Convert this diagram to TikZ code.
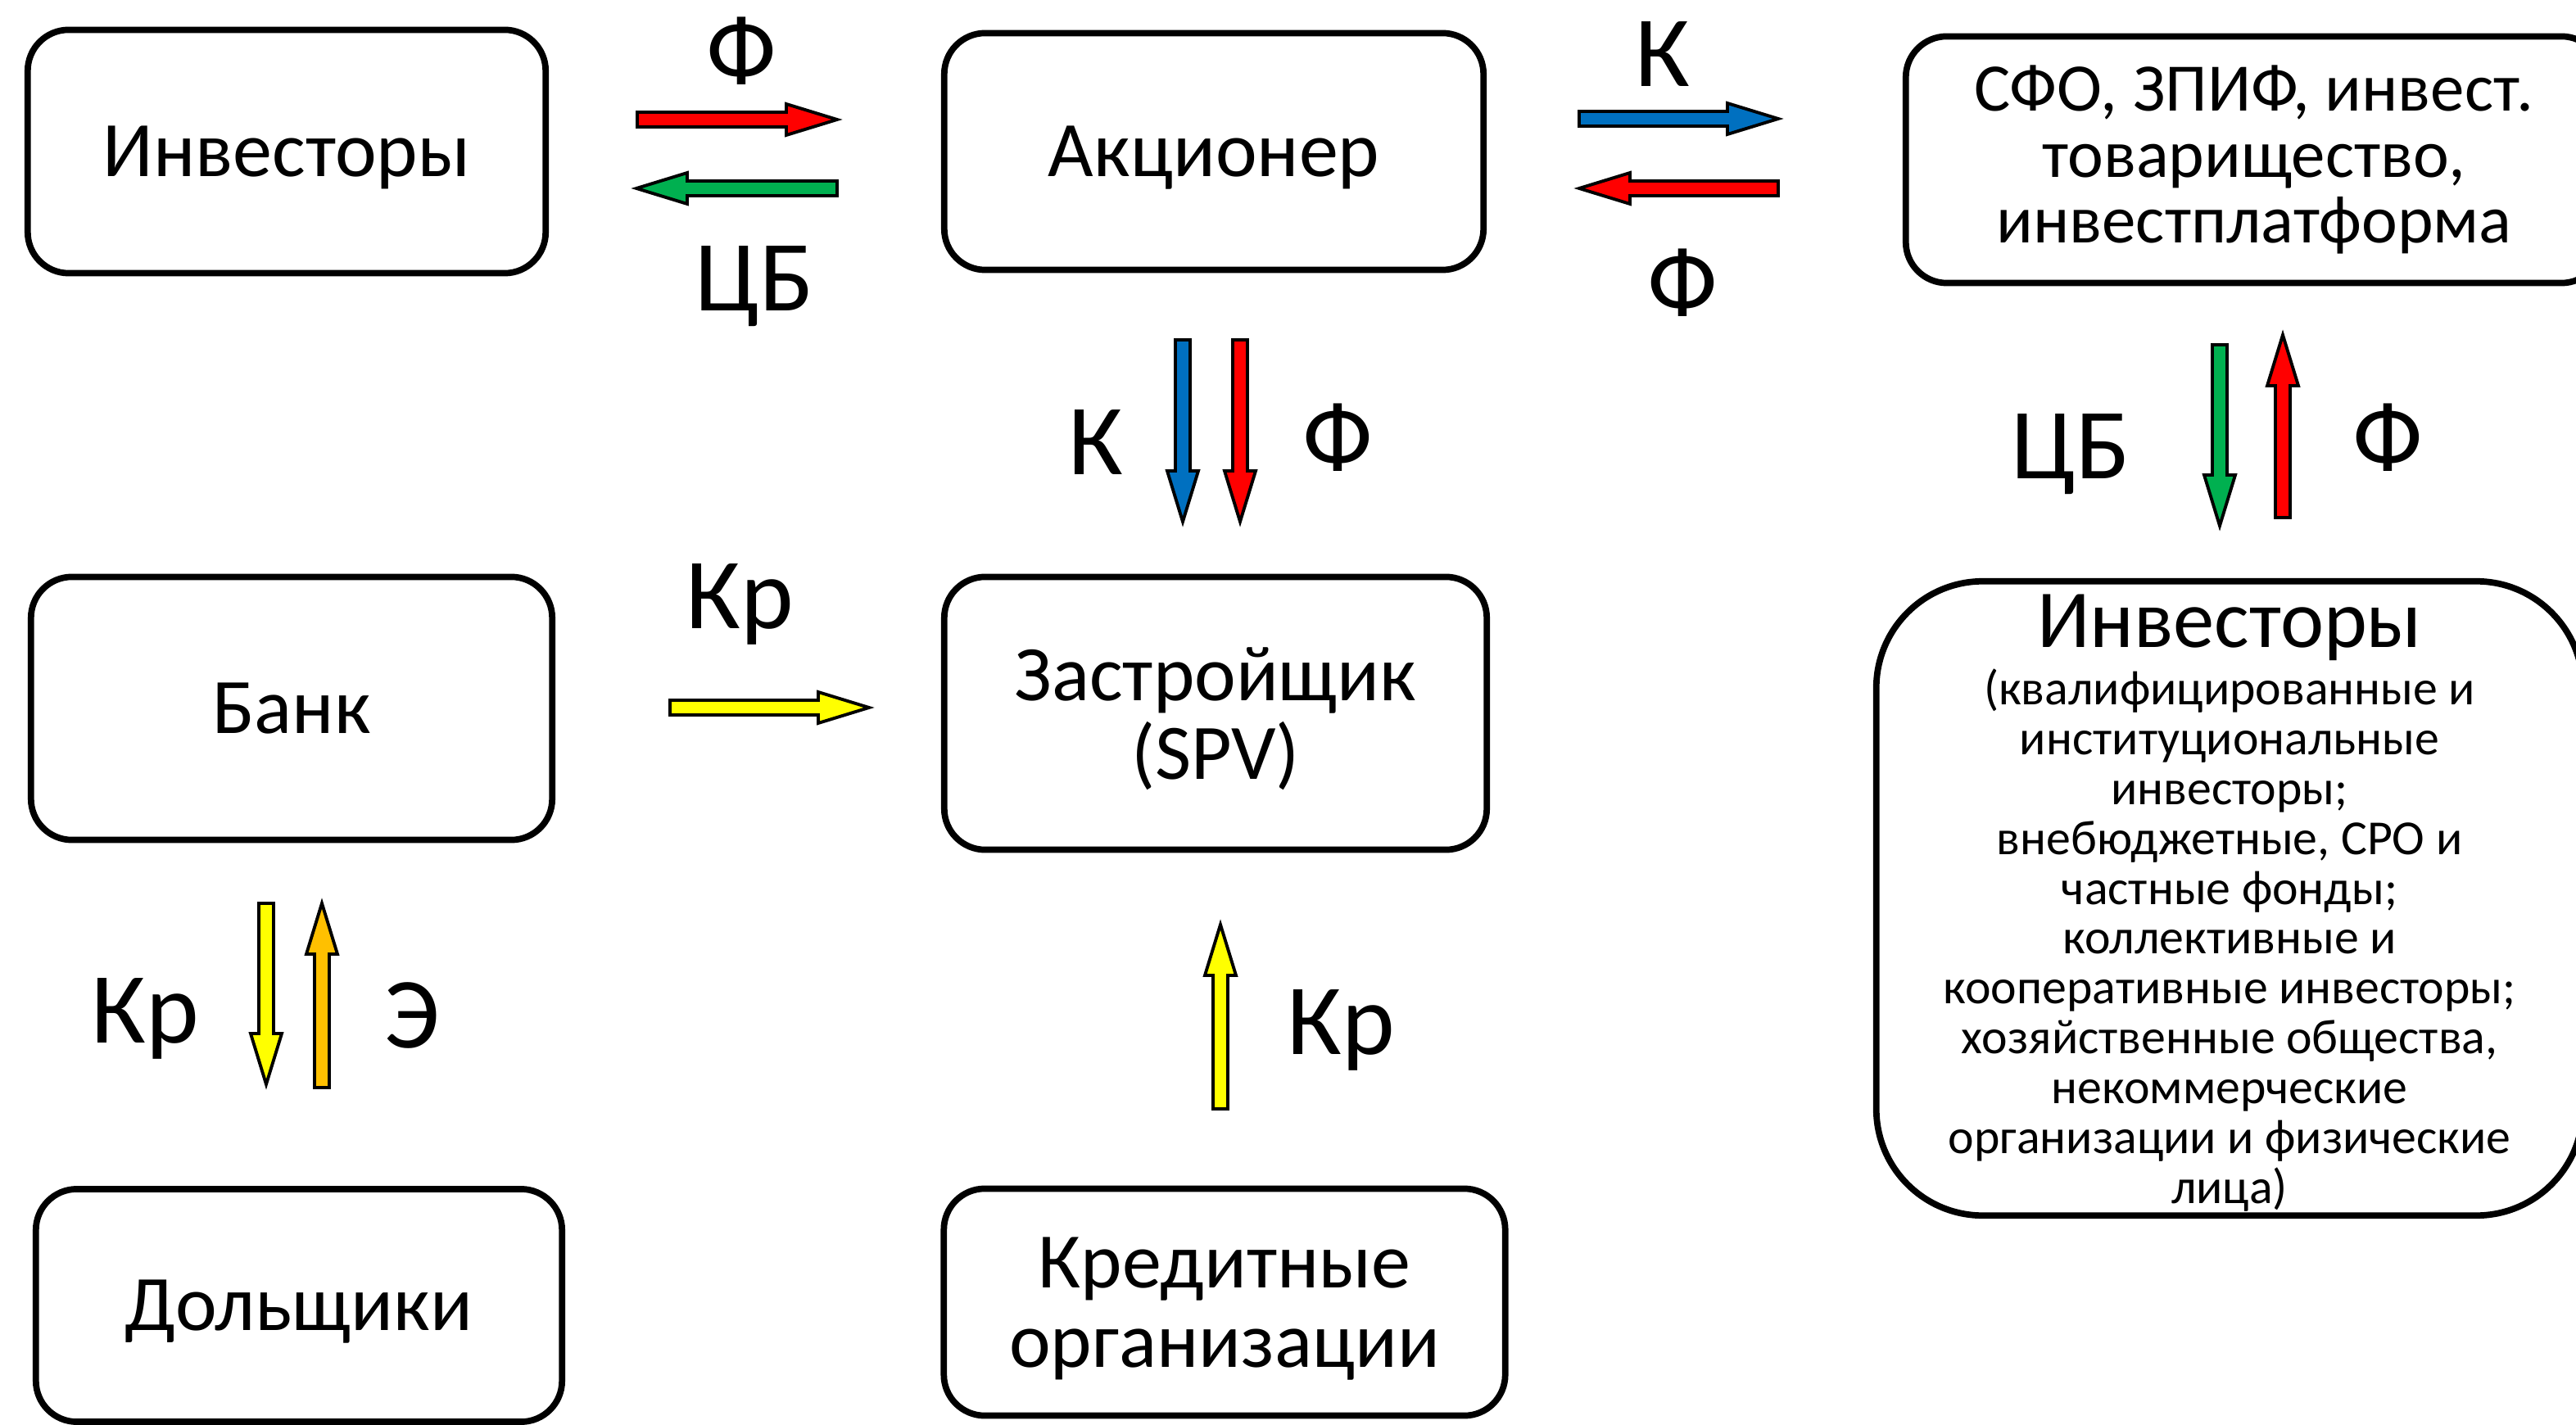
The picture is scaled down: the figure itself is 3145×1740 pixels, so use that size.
\documentclass[tikz,border=0pt]{standalone}
\usepackage{fontspec}
\setmainfont{Carlito}
\definecolor{cred}{HTML}{FF0000}
\definecolor{cgreen}{HTML}{00B050}
\definecolor{cblue}{HTML}{0070C0}
\definecolor{cyellow}{HTML}{FFFF00}
\definecolor{corange}{HTML}{FFC000}
\newcommand{\blkarrow}[5]{%
  \begin{scope}[shift={(#2)},rotate=#3]
    \draw[arrowline,fill=#5] (0,-9) -- ({#4-62},-9) -- ({#4-62},-19) -- (#4,0) -- ({#4-62},19) -- ({#4-62},9) -- (0,9) -- cycle;
    \coordinate (#1) at ({#4/2},0);
  \end{scope}}
\begin{document}
\begin{tikzpicture}[x=0.01cm,y=-0.01cm,
  box/.style={draw,line width=2.2pt,rounded corners=0.5cm,align=center,inner sep=0pt,
    text depth=0pt,font=\fontsize{27.3}{27.5}\selectfont},
  arrowline/.style={draw=black,line width=1.1pt,line join=miter},
  lbl/.style={inner sep=0pt,font=\fontsize{35}{35}\selectfont}]
\clip (0,0) rectangle (3145,1740);
\fill[white] (0,0) rectangle (3145,1740);

% boxes
\node[box,minimum width=6.32cm,minimum height=2.97cm] (inv) at (350,185) {Инвесторы};
\node[box,minimum width=6.58cm,minimum height=2.89cm] (akc) at (1482,185) {Акционер};
\node[box,minimum width=8.50cm,minimum height=3.01cm,text depth=,font=\fontsize{23.6}{23}\selectfont] (sfo) at (2752,195) {СФО, ЗПИФ, инвест.\\товарищество,\\инвестплатформа};
\node[box,minimum width=6.36cm,minimum height=3.21cm] (bank) at (356,865) {Банк};
\node[box,minimum width=6.62cm,minimum height=3.33cm] (spv) at (1484,871) {Застройщик\\(SPV)};
\node[box,minimum width=8.62cm,minimum height=7.74cm,rounded corners=1.3cm] (inv2) at (2722,1097) {};
\node[inner sep=0pt,font=\fontsize{28.6}{28}\selectfont] (inv2t) at (2722,766) {Инвесторы};
\node[inner sep=0pt,align=center,font=\fontsize{17}{17.3}\selectfont] (inv2l) at (2722,1148) {(квалифицированные и\\институциональные\\инвесторы;\\внебюджетные, СРО и\\частные фонды;\\коллективные и\\кооперативные инвесторы;\\хозяйственные общества,\\некоммерческие\\организации и физические\\лица)};
\node[box,minimum width=6.42cm,minimum height=2.84cm] (dol) at (365,1594) {Дольщики};
\node[box,minimum width=6.85cm,minimum height=2.77cm] (kred) at (1495,1590) {Кредитные\\организации};

% block arrows
\blkarrow{a1}{778,146}{0}{244}{cred}
\blkarrow{a2}{1022,230}{180}{245}{cgreen}
\blkarrow{a3}{1928,145}{0}{243}{cblue}
\blkarrow{a4}{2171,230}{180}{243}{cred}
\blkarrow{a5}{1444,415}{-90}{222}{cblue}
\blkarrow{a6}{1514,415}{-90}{222}{cred}
\blkarrow{a7}{2710,421}{-90}{221}{cgreen}
\blkarrow{a8}{2787,632}{90}{223}{cred}
\blkarrow{a9}{818,864}{0}{243}{cyellow}
\blkarrow{a10}{325,1103}{-90}{221}{cyellow}
\blkarrow{a11}{393,1328}{90}{225}{corange}
\blkarrow{a12}{1490,1354}{90}{225}{cyellow}

% labels
\node[lbl] (l1) at (905,62) {Ф};
\node[lbl] (l2) at (921,350) {ЦБ};
\node[lbl] (l3) at (2030,66) {К};
\node[lbl] (l4) at (2054,345) {Ф};
\node[lbl] (l5) at (1338,540) {К};
\node[lbl] (l6) at (1633,534) {Ф};
\node[lbl] (l7) at (2528,555) {ЦБ};
\node[lbl] (l8) at (2915,534) {Ф};
\node[lbl] (l9) at (903,738) {Кр};
\node[lbl] (l10) at (177,1244) {Кр};
\node[lbl] (l11) at (503,1240) {Э};
\node[lbl] (l12) at (1637,1258) {Кр};
\end{tikzpicture}
\end{document}
